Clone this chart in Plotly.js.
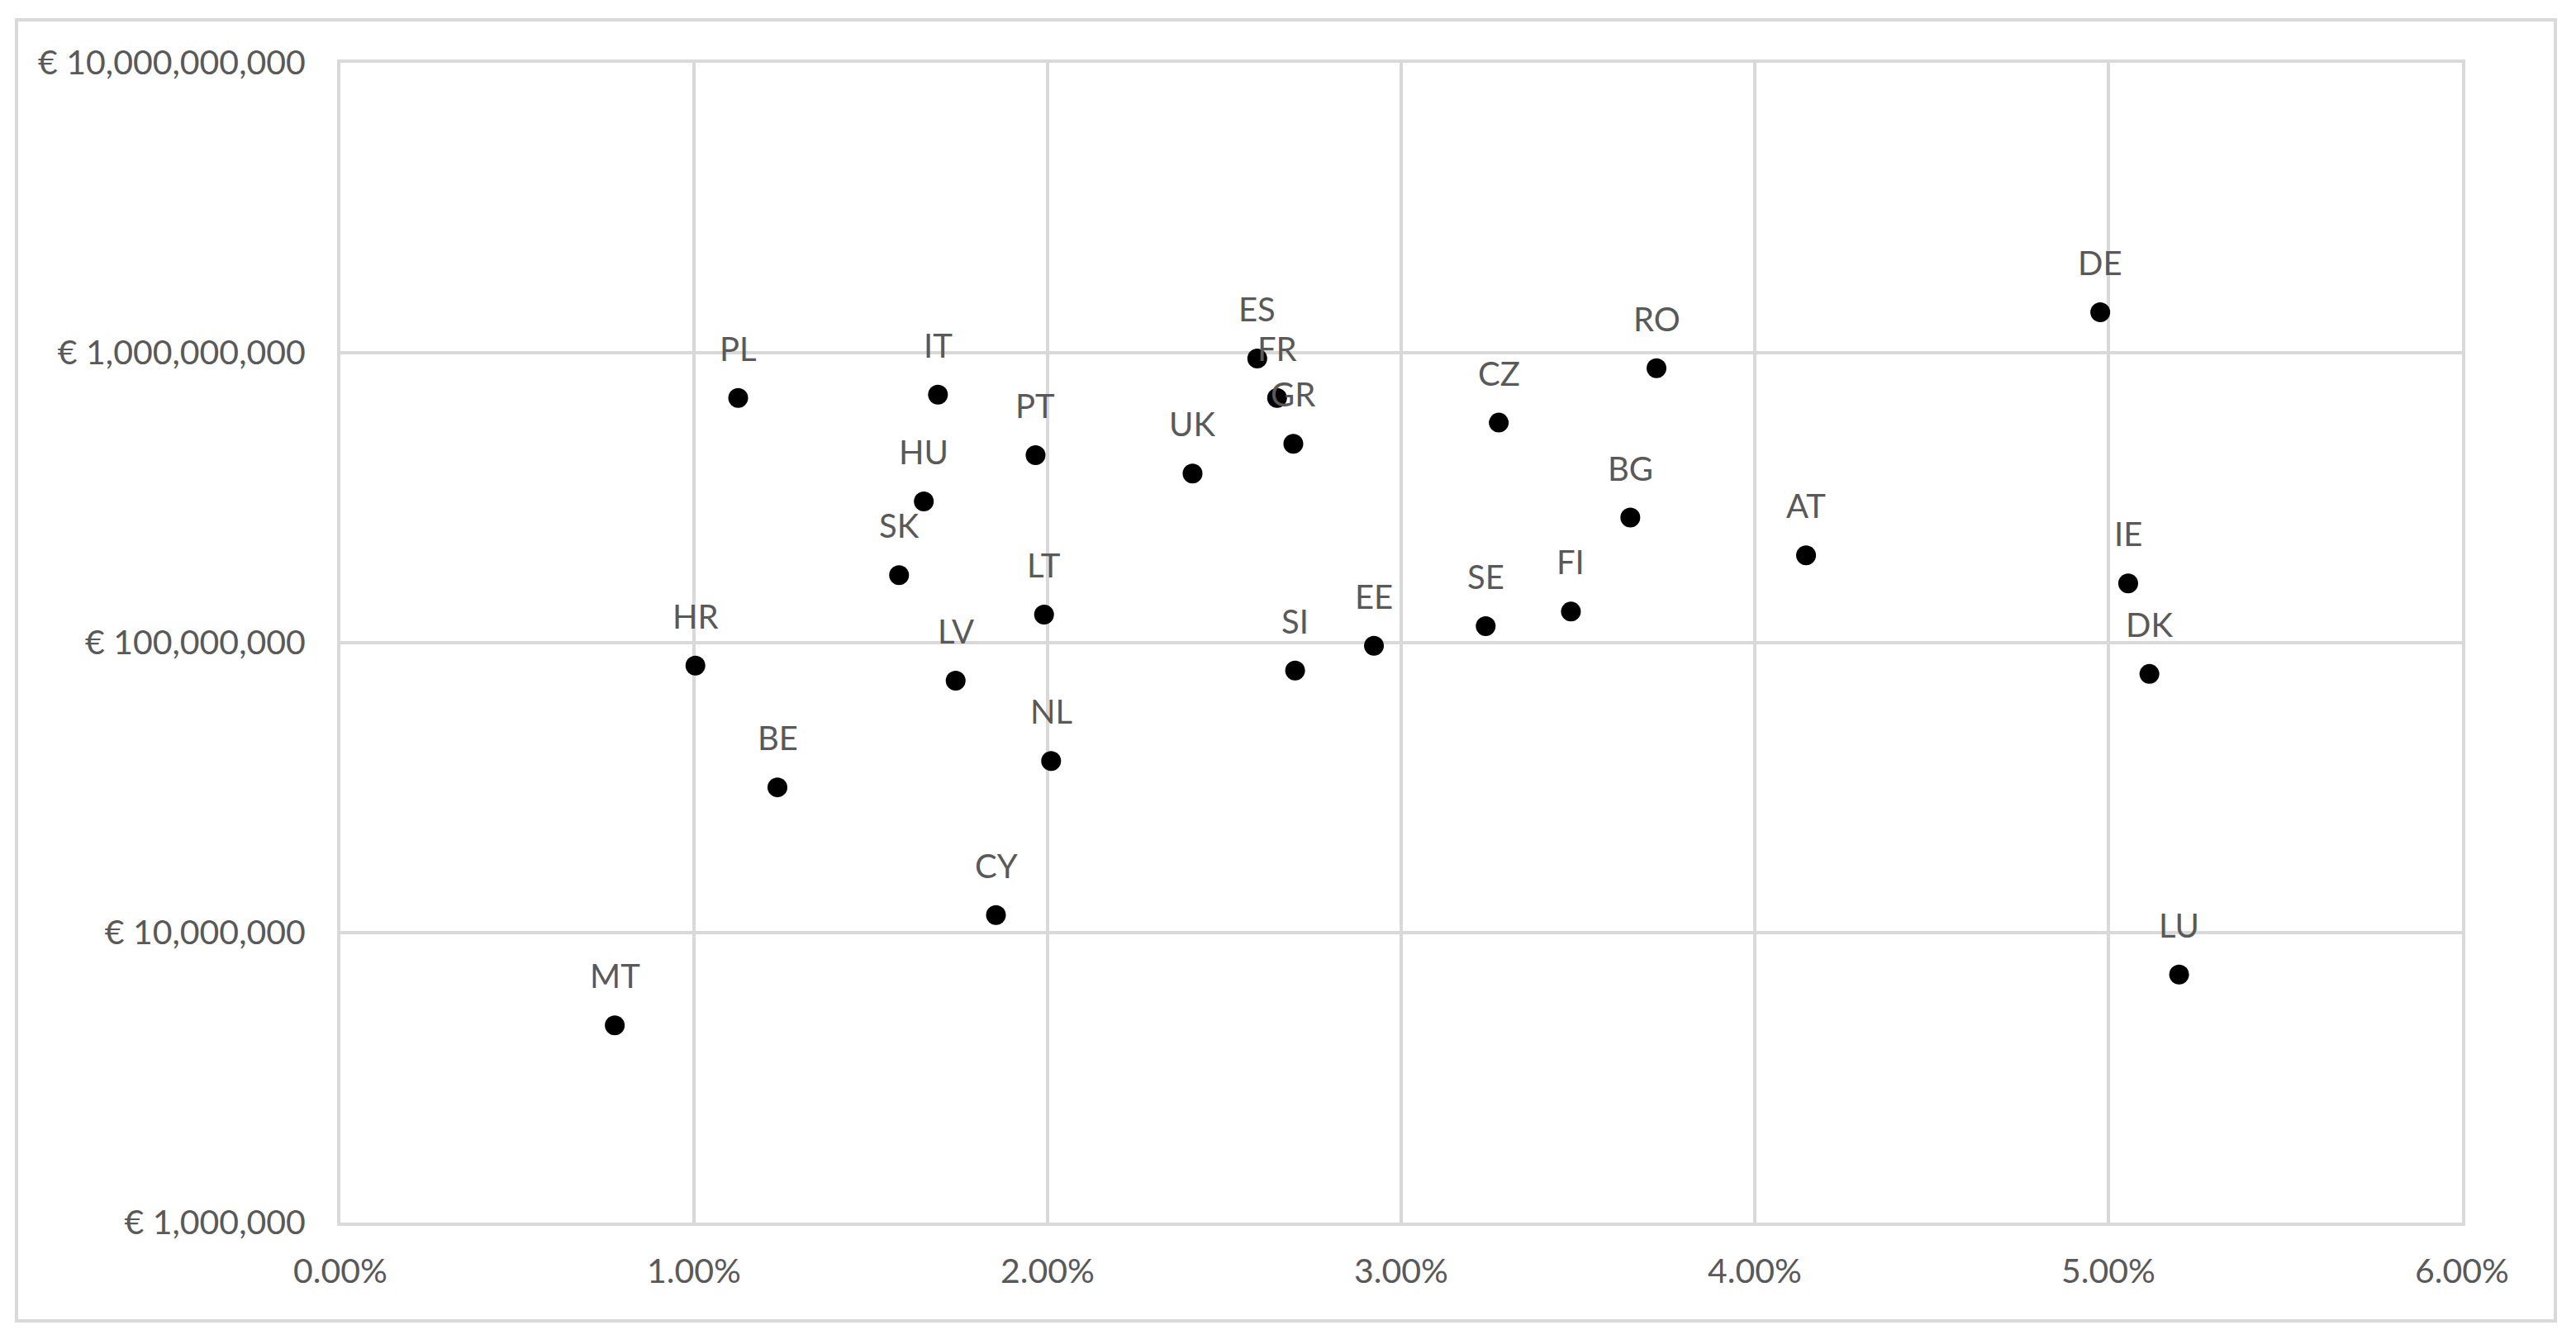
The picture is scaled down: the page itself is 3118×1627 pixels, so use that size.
<!DOCTYPE html>
<html>
<head>
<meta charset="utf-8">
<script src="https://cdn.plot.ly/plotly-3.0.1.min.js"></script>
<style>
  html, body { margin: 0; padding: 0; background: #ffffff; }
  #chart { width: 3118px; height: 1627px; }
</style>
</head>
<body>
<div id="chart"></div>
<script>
// Country codes
const countries = ["PL","IT","HU","SK","PT","LT","LV","NL","CY","HR","BE","MT","UK","ES","FR","GR","SI","EE","CZ","SE","FI","BG","RO","AT","DE","IE","DK","LU"];
// Share (x axis, fraction)
const share = [0.01125,0.0169,0.0165,0.0158,0.01966,0.0199,0.0174,0.0201,0.01854,0.01004,0.01236,0.00776,0.0241,0.02593,0.02649,0.02695,0.0270,0.02923,0.03276,0.03239,0.0348,0.03648,0.03722,0.04145,0.04977,0.05056,0.05116,0.0520];
// Amount in euro (y axis, log)
const amount = [6.98e8,7.17e8,3.07e8,1.71e8,4.43e8,1.25e8,7.4e7,3.91e7,1.15e7,8.34e7,3.17e7,4.79e6,3.83e8,9.55e8,6.98e8,4.85e8,8.01e7,9.75e7,5.74e8,1.14e8,1.28e8,2.70e8,8.84e8,2.0e8,1.38e9,1.6e8,7.8e7,7.17e6];
// Tick definitions
const yTickVals = [1e6, 1e7, 1e8, 1e9, 1e10];
const yTickText = ["€ 1,000,000", "€ 10,000,000", "€ 100,000,000", "€ 1,000,000,000", "€ 10,000,000,000"];
const xTickVals = [0, 0.01, 0.02, 0.03, 0.04, 0.05, 0.06];

const W = 3118, H = 1627;
const M = { l: 412, r: 138, t: 76, b: 147 };
const pw = W - M.l - M.r, ph = H - M.t - M.b;
const txtColor = "#595959";
const gridColor = "#d9d9d9";
const fontFam = "Lato, 'Open Sans', sans-serif";
const fs = 41;

const trace = {
  type: "scatter",
  mode: "markers",
  x: share,
  y: amount,
  marker: { color: "#000000", size: 24, line: { width: 0 } },
  hoverinfo: "skip",
  showlegend: false
};

const annotations = countries.map((c, i) => ({
  x: share[i],
  y: Math.log10(amount[i]),
  xref: "x", yref: "y",
  text: c,
  showarrow: false,
  xanchor: "center",
  yanchor: "middle",
  yshift: 60,
  font: { family: fontFam, size: 40, color: txtColor }
}));

// Outer chart border in paper coords
const px = v => (v - M.l) / pw;
const py = v => (H - M.b - v) / ph;

const layout = {
  width: W, height: H,
  margin: M,
  paper_bgcolor: "#ffffff",
  plot_bgcolor: "#ffffff",
  font: { family: fontFam, size: fs, color: txtColor },
  showlegend: false,
  xaxis: {
    range: [0, 0.06],
    tickvals: xTickVals,
    tickformat: ".2%",
    showgrid: true, gridcolor: gridColor, gridwidth: 4,
    zeroline: false,
    showline: true, linecolor: gridColor, linewidth: 4, mirror: true,
    ticks: "",
    ticklabelstandoff: 20,
    tickfont: { family: fontFam, size: fs, color: txtColor }
  },
  yaxis: {
    type: "log",
    range: [6, 10],
    tickvals: yTickVals,
    ticktext: yTickText,
    showgrid: true, gridcolor: gridColor, gridwidth: 4,
    zeroline: false,
    showline: true, linecolor: gridColor, linewidth: 4, mirror: true,
    ticks: "",
    ticklabelstandoff: 30,
    tickfont: { family: fontFam, size: fs, color: txtColor }
  },
  annotations: annotations,
  shapes: [{
    type: "rect", xref: "paper", yref: "paper",
    x0: px(20), x1: px(3093), y0: py(24), y1: py(1599),
    line: { color: gridColor, width: 4 },
    fillcolor: "rgba(0,0,0,0)",
    layer: "below"
  }]
};

Plotly.newPlot("chart", [trace], layout, { staticPlot: true, displayModeBar: false });
</script>
</body>
</html>
